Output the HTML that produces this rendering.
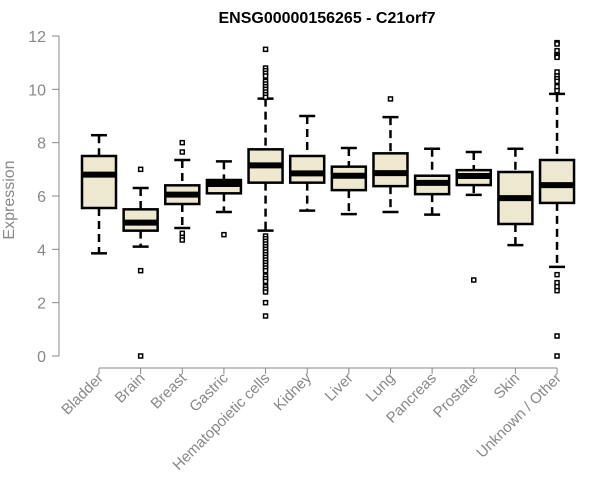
<!DOCTYPE html>
<html><head><meta charset="utf-8"><style>body{margin:0;background:#fff}svg{display:block}</style></head>
<body>
<svg id="chart" width="600" height="500" xmlns="http://www.w3.org/2000/svg" font-family="Liberation Sans, sans-serif"></svg>
<script>
const categories=["Bladder","Brain","Breast","Gastric","Hematopoietic cells","Kidney","Liver","Lung","Pancreas","Prostate","Skin","Unknown / Other"];
const whiskerLow=[3.85,4.1,4.8,5.4,4.7,5.45,5.32,5.4,5.3,6.04,4.16,3.34];
const q1=[5.55,4.7,5.7,6.1,6.5,6.5,6.22,6.37,6.07,6.41,4.95,5.74];
const median=[6.8,5.0,6.05,6.45,7.15,6.85,6.76,6.86,6.49,6.75,5.92,6.41];
const q3=[7.5,5.5,6.4,6.6,7.75,7.5,7.1,7.6,6.76,6.97,6.9,7.35];
const whiskerHigh=[8.28,6.3,7.35,7.3,9.65,9.0,7.8,8.96,7.77,7.65,7.77,9.83];
const outliers=[[],[7.0,3.2,0],[8.0,7.65,4.6,4.45,4.35],[4.55],
[11.5,10.8,10.7,10.6,10.5,10.3,10.2,10.1,10.0,9.9,9.8,9.7,4.5,4.4,4.3,4.2,4.1,4.0,3.9,3.8,3.7,3.6,3.5,3.4,3.3,3.2,3.0,2.9,2.8,2.6,2.5,2.4,2.0,1.5],
[],[],[9.64],[],[2.85],[],
[11.75,11.7,11.45,11.3,11.25,11.2,10.65,10.5,10.4,10.3,10.1,9.95,3.05,2.75,2.6,2.45,0.75,0]];
const yTicks=[0,2,4,6,8,10,12];
const NS="http://www.w3.org/2000/svg",svg=document.getElementById("chart");
const y=v=>356-v*26.667, x=i=>99+i*41.64;
function mk(t,a,p){const e=document.createElementNS(NS,t);for(const k in a)e.setAttribute(k,a[k]);(p||svg).appendChild(e);return e;}
let t=mk("text",{x:327,y:23,"text-anchor":"middle","font-size":"16","font-weight":"bold",fill:"#000"});t.textContent="ENSG00000156265 - C21orf7";


let yl=mk("text",{x:0,y:0,transform:"translate(14,200) rotate(-90)","text-anchor":"middle","font-size":"16",fill:"#888"});yl.textContent="Expression";


let ya=mk("g",{});


mk("line",{x1:59,x2:59,y1:y(12),y2:y(0),stroke:"#888"},ya);
yTicks.forEach(v=>{mk("line",{x1:52,x2:59,y1:y(v),y2:y(v),stroke:"#888"},ya);
const l=mk("text",{x:46,y:y(v)+6,"text-anchor":"end","font-size":"16",fill:"#888"},ya);l.textContent=v;

});
let xa=mk("g",{});


mk("line",{x1:x(0),x2:x(categories.length-1),y1:368,y2:368,stroke:"#888"},xa);
categories.forEach((c,i)=>{const cx=x(i);
mk("line",{x1:cx,x2:cx,y1:368,y2:374,stroke:"#888"},xa);
const l=mk("text",{x:0,y:0,transform:`translate(${cx+5},379) rotate(-45)`,"text-anchor":"end","font-size":"15",fill:"#888"},xa);l.textContent=c;


const g=mk("g",{});


const w=17;
mk("line",{x1:cx,x2:cx,y1:y(whiskerHigh[i]),y2:y(q3[i]),stroke:"#000","stroke-width":2.5,"stroke-dasharray":"8,5"},g);
mk("line",{x1:cx,x2:cx,y1:y(q1[i]),y2:y(whiskerLow[i]),stroke:"#000","stroke-width":2.5,"stroke-dasharray":"8,5"},g);
mk("line",{x1:cx-8,x2:cx+8,y1:y(whiskerHigh[i]),y2:y(whiskerHigh[i]),stroke:"#000","stroke-width":2.5},g);
mk("line",{x1:cx-8,x2:cx+8,y1:y(whiskerLow[i]),y2:y(whiskerLow[i]),stroke:"#000","stroke-width":2.5},g);
mk("rect",{x:cx-w,y:y(q3[i]),width:2*w,height:y(q1[i])-y(q3[i]),fill:"#ede8cf",stroke:"#000","stroke-width":2.5},g);
mk("line",{x1:cx-w,x2:cx+w,y1:y(median[i]),y2:y(median[i]),stroke:"#000","stroke-width":6},g);
outliers[i].forEach(v=>mk("rect",{x:cx-2,y:y(v)-2,width:4,height:4,fill:"#fff",stroke:"#000","stroke-width":1.5},g));
});
</script>
</body></html>
